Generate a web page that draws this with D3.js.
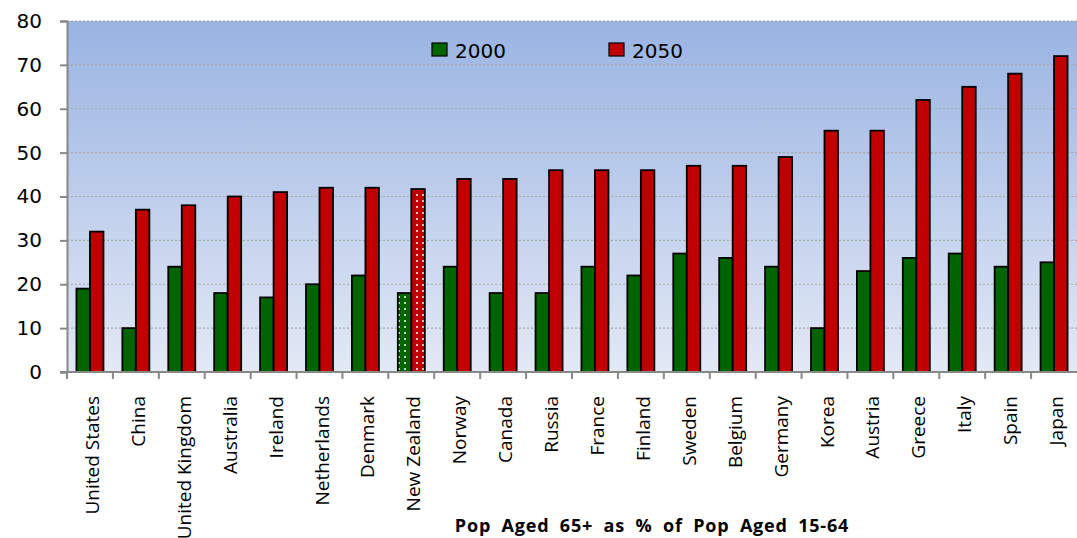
<!DOCTYPE html>
<html><head><meta charset="utf-8">
<script src="https://cdn.jsdelivr.net/npm/d3@7"></script>
<style>body{margin:0;background:#fff}svg{display:block}</style>
</head><body>
<svg id="c" width="1077" height="538"></svg>
<script>
const categories = ["United States","China","United Kingdom","Australia","Ireland","Netherlands","Denmark","New Zealand","Norway","Canada","Russia","France","Finland","Sweden","Belgium","Germany","Korea","Austria","Greece","Italy","Spain","Japan"];
const values2000 = [19,10,24,18,17,20,22,18,24,18,18,24,22,27,26,24,10,23,26,27,24,25];
const values2050 = [32,37,38,40,41,42,42,41.7,44,44,46,46,46,47,47,49,55,55,62,65,68,72];
const series = ["2000","2050"];
const yTicks = [0,10,20,30,40,50,60,70,80];
const highlight = "New Zealand";
const title = "Pop Aged 65+ as % of Pop Aged 15-64";

const svg = d3.select("#c");
const L = 67, R = 1077, T = 21, B = 372;
const colors = {"2000":"#006400","2050":"#c00000"};

const defs = svg.append("defs");
const grad = defs.append("linearGradient").attr("id","bg").attr("x1",0).attr("y1",0).attr("x2",0).attr("y2",1);
grad.append("stop").attr("offset","0%").attr("stop-color","#99b3e2");
grad.append("stop").attr("offset","100%").attr("stop-color","#e3e9f5");
series.forEach(s=>{
  const p = defs.append("pattern").attr("id","dot"+s).attr("patternUnits","userSpaceOnUse").attr("width",6).attr("height",6);
  p.append("rect").attr("width",6).attr("height",6).attr("fill",colors[s]);
  p.append("circle").attr("cx",3).attr("cy",3).attr("r",1).attr("fill","#fff");
});

const x = d3.scaleBand().domain(categories).range([L,R]);
const y = d3.scaleLinear().domain([0,80]).range([B,T]);
const bw = 13.5;
const inner = d3.scaleBand().domain(series).range([0,2*bw]);

svg.append("rect").attr("x",L).attr("y",T).attr("width",R-L).attr("height",B-T).attr("fill","url(#bg)");

// grid
svg.append("g").selectAll("line").data(yTicks.filter(d=>d>0)).join("line")
  .attr("x1",L).attr("x2",R).attr("y1",d=>y(d)).attr("y2",d=>y(d))
  .attr("stroke","#a8a8a8").attr("stroke-width",1.2).attr("stroke-dasharray","2,2");

// bars
const data = categories.map((c,i)=>({c, v:{"2000":values2000[i],"2050":values2050[i]}}));
const g = svg.append("g");
data.forEach(d=>{
  const x0 = x(d.c) + (x.bandwidth()-2*bw)/2;
  series.forEach(s=>{
    const fill = d.c===highlight ? "url(#dot"+s+")" : colors[s];
    g.append("rect").attr("x",x0+inner(s)).attr("y",y(d.v[s]))
      .attr("width",bw).attr("height",y(0)-y(d.v[s]))
      .attr("fill",fill).attr("stroke","#000").attr("stroke-width",1.8);
  });
});

// axes
const yAxis = svg.append("g").attr("transform",`translate(${L},0)`)
  .call(d3.axisLeft(y).tickValues(yTicks).tickSize(7).tickPadding(18));
yAxis.select(".domain").attr("stroke","#888").attr("stroke-width",2);
yAxis.selectAll(".tick line").attr("stroke","#888").attr("stroke-width",2);
yAxis.selectAll(".tick text").attr("font-family","DejaVu Sans, Verdana, sans-serif").attr("font-size",20).attr("fill","#000");

const xAxis = svg.append("g").attr("transform",`translate(0,${B})`);
xAxis.append("line").attr("x1",L-7).attr("x2",R).attr("stroke","#888").attr("stroke-width",2);
xAxis.selectAll("line.t").data(categories).join("line").attr("class","t")
  .attr("x1",d=>x(d)).attr("x2",d=>x(d)).attr("y1",0).attr("y2",7)
  .attr("stroke","#888").attr("stroke-width",2);
xAxis.selectAll("text").data(categories).join("text")
  .attr("transform",d=>`translate(${x(d)+x.bandwidth()/2+9},24) rotate(-90)`)
  .attr("text-anchor","end").attr("font-family","Open Sans, sans-serif").attr("font-size",19)
  .text(d=>d);

// legend
const leg = svg.append("g");
const legX = {"2000":432,"2050":609};
series.forEach(s=>{
  leg.append("rect").attr("x",legX[s]).attr("y",43).attr("width",15).attr("height",13)
    .attr("fill",colors[s]).attr("stroke","#000").attr("stroke-width",1.2);
  leg.append("text").attr("x",legX[s]+23).attr("y",58).attr("font-family","DejaVu Sans, Verdana, sans-serif")
    .attr("font-size",20).text(s);
});

svg.append("text").attr("x",652).attr("y",532).attr("text-anchor","middle")
  .attr("font-family","Open Sans, sans-serif").attr("font-weight","bold").attr("font-size",18)
  .attr("letter-spacing",0.8).attr("word-spacing",5).text(title);
</script>
</body></html>
